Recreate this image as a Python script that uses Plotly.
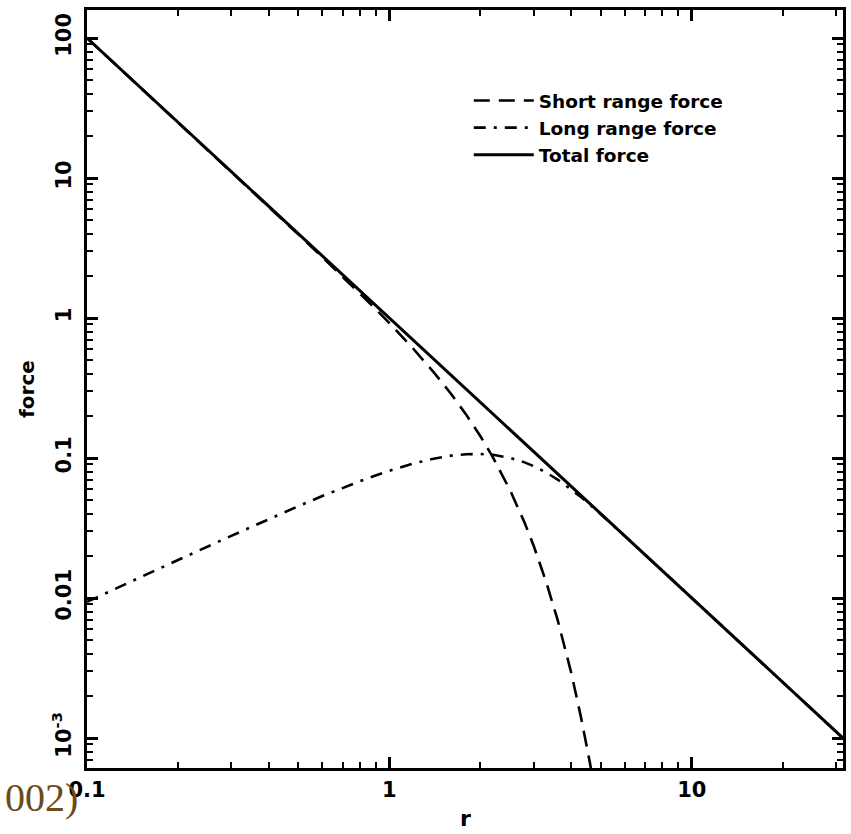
import plotly.graph_objects as go

# ---- data ----
r_short = [0.1, 0.15, 0.2, 0.3, 0.4, 0.5, 0.6, 0.7, 0.8, 0.9, 1.0, 1.2, 1.4, 1.6, 1.8,
           2.0, 2.2, 2.5, 2.8, 3.0, 3.3, 3.6, 4.0, 4.3, 4.6, 4.8]
f_short = [99.99, 44.43, 24.98, 11.083, 6.213, 3.955, 2.724, 1.980, 1.494, 1.160, 0.919,
           0.603, 0.411, 0.287, 0.202, 0.143, 0.101, 0.0596, 0.0345, 0.0236, 0.0130,
           0.00698, 0.00288, 0.00141, 0.000672, 0.000400]

r_long = [0.1, 0.15, 0.2, 0.3, 0.4, 0.5, 0.6, 0.7, 0.8, 0.9, 1.0, 1.2, 1.4, 1.6, 1.8,
          2.0, 2.2, 2.5, 2.8, 3.0, 3.3, 3.6, 4.0, 4.3, 4.6, 5.0, 6.0, 7.0, 8.0, 10.0,
          15.0, 20.0, 31.62]
f_long = [0.00939, 0.0141, 0.0187, 0.0278, 0.0367, 0.0453, 0.0535, 0.0612, 0.0684, 0.0751,
          0.0811, 0.0913, 0.0989, 0.1040, 0.1065, 0.1069, 0.1054, 0.1004, 0.0931, 0.0875,
          0.0788, 0.0702, 0.0596, 0.0527, 0.0466, 0.0398, 0.0278, 0.0204, 0.0156, 0.0100,
          0.00444, 0.0025, 0.001]

r_total = [0.1, 0.3, 1.0, 3.0, 10.0, 31.62]
f_total = [100.0, 11.11, 1.0, 0.1111, 0.01, 0.001]

x_tickvals = [0.1, 1, 10]
x_ticktext = ["0.1", "1", "10"]
y_tickvals = [0.001, 0.01, 0.1, 1, 10, 100]
y_ticktext = ["10<sup>-3</sup>", "0.01", "0.1", "1", "10", "100"]
series_names = ["Short range force", "Long range force", "Total force"]
x_title = "r"
y_title = "force"

FONT = "DejaVu Sans, sans-serif"

x_minor = [m * d for d in (0.1, 1, 10) for m in range(2, 10) if m * d < 32]
y_minor = [m * d for d in (0.0001, 0.001, 0.01, 0.1, 1, 10, 100) for m in range(2, 10)
           if 0.0006 < m * d < 160]

fig = go.Figure()
fig.add_trace(go.Scatter(x=r_short, y=f_short, mode="lines", name=series_names[0],
                         line=dict(color="black", width=2.6, dash="16px,9px")))
fig.add_trace(go.Scatter(x=r_long, y=f_long, mode="lines", name=series_names[1],
                         line=dict(color="black", width=2.6, dash="12px,8px,3px,8px")))
fig.add_trace(go.Scatter(x=r_total, y=f_total, mode="lines", name=series_names[2],
                         line=dict(color="black", width=3)))

axis_common = dict(
    type="log", showline=True, linewidth=3, linecolor="black", mirror="allticks",
    ticks="inside", ticklen=11, tickwidth=2.5, tickcolor="black",
    showgrid=False, zeroline=False, automargin=False,
    tickfont=dict(family=FONT, size=21, color="black", weight="bold"),
)

fig.update_layout(
    width=851, height=834,
    margin=dict(l=87, r=8, t=10, b=66, autoexpand=False),
    paper_bgcolor="white", plot_bgcolor="white",
    showlegend=True,
    legend=dict(x=0.505, y=0.905, xanchor="left", yanchor="top",
                bgcolor="rgba(0,0,0,0)", borderwidth=0,
                font=dict(family=FONT, size=18.5, color="black", weight="bold"),
                itemwidth=60, tracegroupgap=0),
    xaxis=dict(**axis_common, range=[-1, 1.5], tickmode="array",
               tickvals=x_tickvals, ticktext=x_ticktext, ticklabelstandoff=1,
               minor=dict(ticks="inside", ticklen=6, tickwidth=2, tickcolor="black",
                          tickmode="array", tickvals=x_minor, showgrid=False)),
    yaxis=dict(**axis_common, range=[-3.214, 2.2], tickmode="array",
               tickvals=y_tickvals, ticktext=y_ticktext, tickangle=-90,
               ticklabelstandoff=5,
               minor=dict(ticks="inside", ticklen=6, tickwidth=2, tickcolor="black",
                          tickmode="array", tickvals=y_minor, showgrid=False),
               title=dict(text=y_title, standoff=8,
                          font=dict(family=FONT, size=20, color="black", weight="bold"))),
)

# x-axis title at the bottom edge of the image
fig.add_annotation(text=x_title, xref="paper", yref="paper", x=0.5, y=-0.0855,
                   xanchor="center", yanchor="bottom", showarrow=False,
                   font=dict(family=FONT, size=22, color="black", weight="bold"))

fig.add_annotation(text="002)", xref="paper", yref="paper", x=-0.009, y=-0.006,
                   xanchor="right", yanchor="top", showarrow=False,
                   font=dict(family="Liberation Serif, serif", size=40, color="#6b4a1c"))

fig.write_html("out.html")
